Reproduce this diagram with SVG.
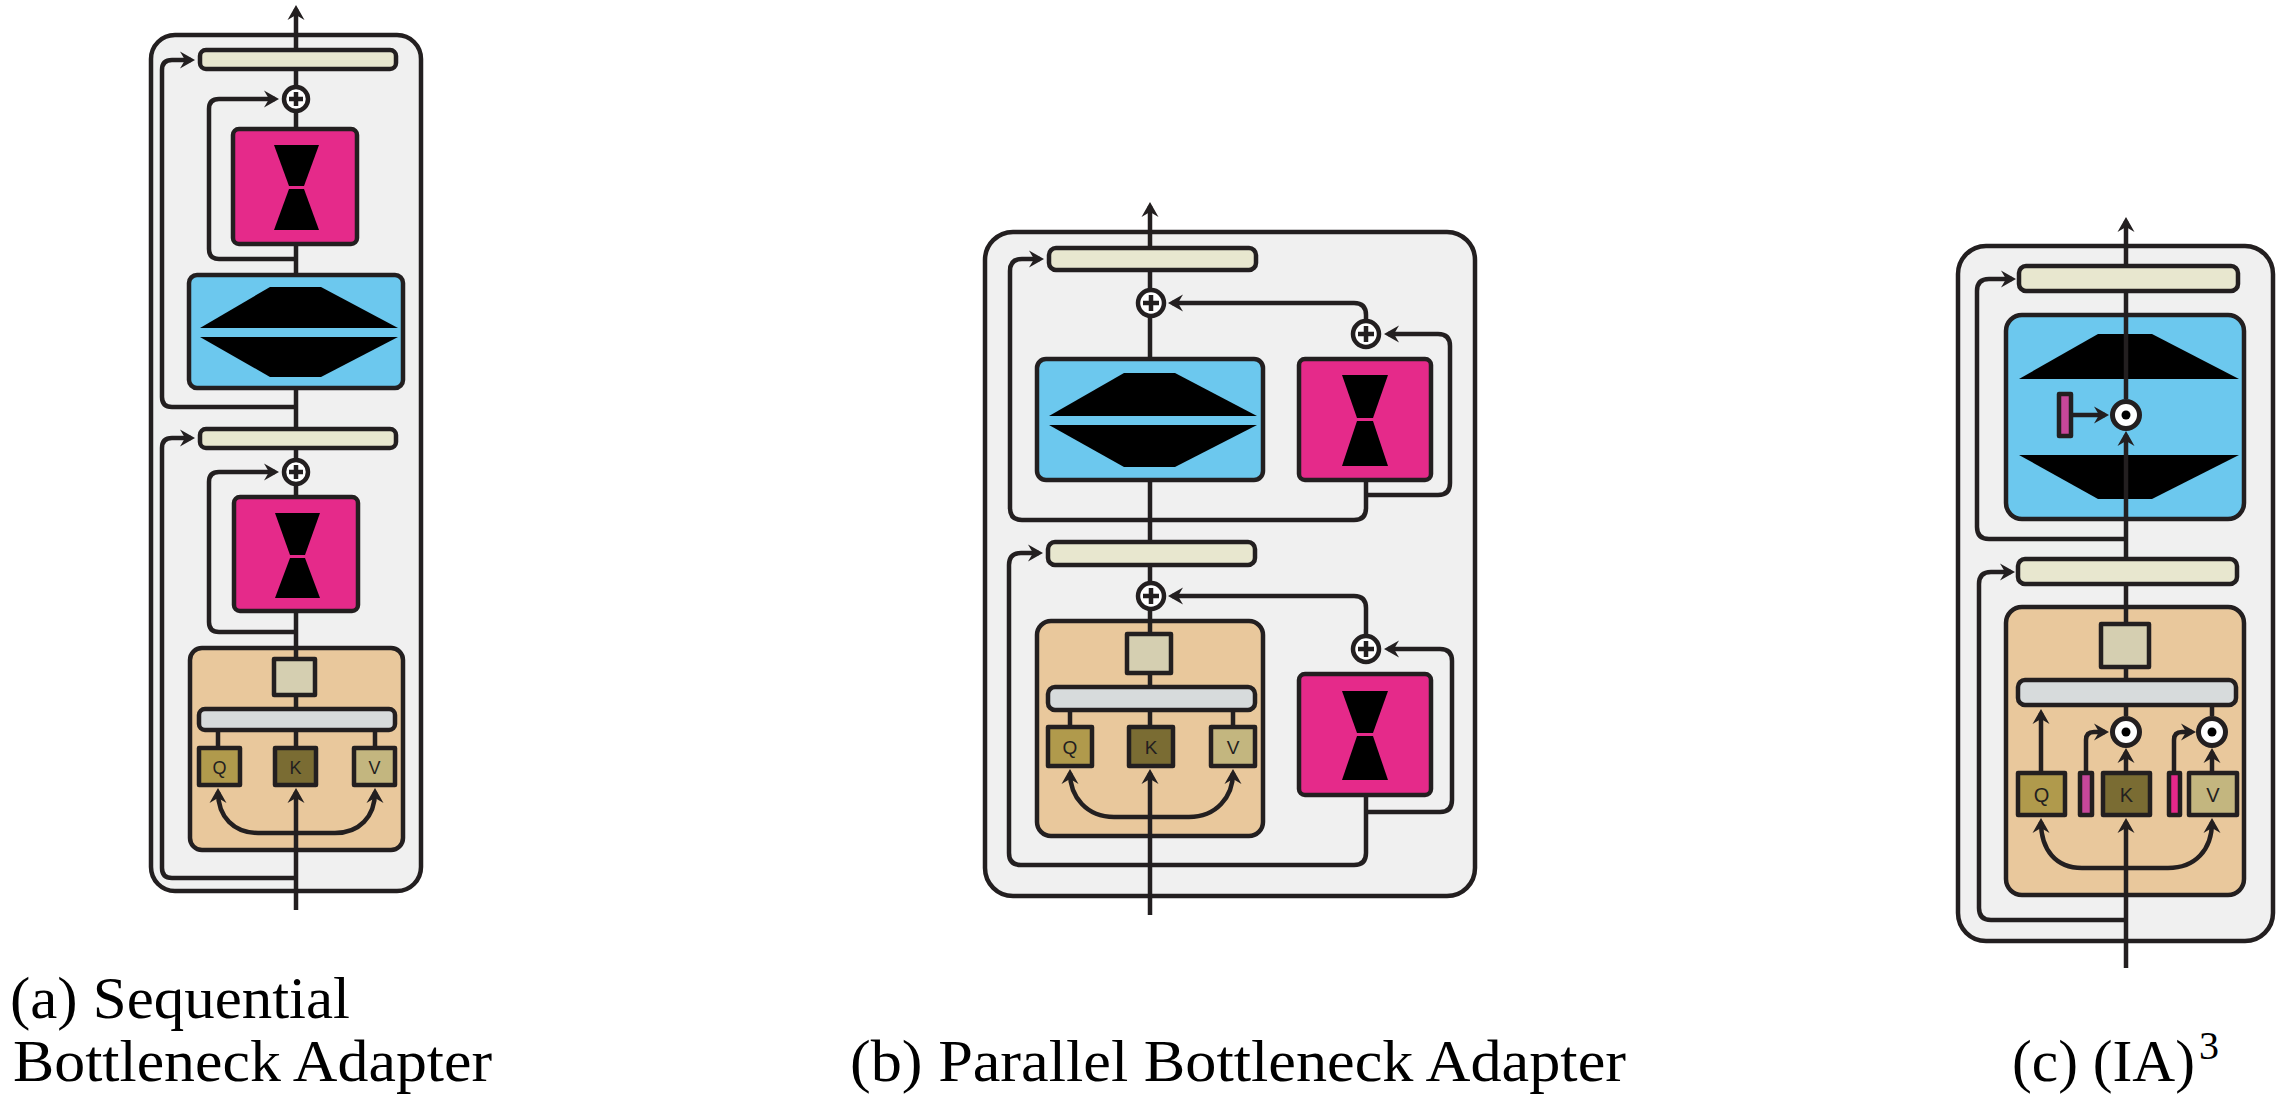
<svg xmlns="http://www.w3.org/2000/svg" width="2291" height="1106" viewBox="0 0 2291 1106">
<style>
.bx{stroke:#231f20;stroke-width:4.5;stroke-linejoin:round}
.outer{fill:#f0f0f0}
.ln{fill:#e8e7cf}
.pink{fill:#e52a8a}
.blue{fill:#6cc8ee}
.orange{fill:#e9c89c}
.sq{fill:#d5cfb1}
.gray{fill:#d7dbdc}
.q{fill:#b09a4c}
.k{fill:#7a6c33}
.v{fill:#c3b67f}
.blk{fill:#000}
.ln-c{fill:none;stroke:#231f20;stroke-width:4.5;stroke-linejoin:round}
.arr{marker-end:url(#ah)}
.pl{fill:#fff;stroke:#231f20;stroke-width:4.5}
.cross{stroke:#231f20;stroke-width:4.5;fill:none}
.od{fill:#fff;stroke:#231f20;stroke-width:5}
.lbl{font-family:"Liberation Sans",Arial,sans-serif;fill:#231f20;text-anchor:middle}
.cap{font-family:"Liberation Serif","DejaVu Serif",serif;font-size:60px;fill:#000}
</style>
<defs>
<marker id="ah" markerUnits="userSpaceOnUse" markerWidth="30" markerHeight="30" refX="0" refY="0" orient="auto" overflow="visible">
<path d="M-11,-8.5 L4,0 L-11,8.5 L-6,0 Z" fill="#231f20"/>
</marker>
</defs>

<!-- panel backgrounds -->
<g id="panel-a"><rect class="bx outer" x="151" y="35" width="270" height="856" rx="24"/></g>
<g id="panel-b"><rect class="bx outer" x="985" y="232" width="490" height="664" rx="28"/></g>
<g id="panel-c"><rect class="bx outer" x="1958" y="246" width="315" height="695" rx="28"/></g>

<!-- attention containers -->
<g id="attn-a"><rect class="bx orange" x="190" y="648" width="213" height="202" rx="12"/></g>
<g id="attn-b"><rect class="bx orange" x="1037" y="621" width="226" height="215" rx="14"/></g>
<g id="attn-c"><rect class="bx orange" x="2006" y="607" width="238" height="288" rx="16"/></g>

<!-- (c) feed-forward with IA3 scaling -->
<g id="ffn-c">
<rect class="bx blue" x="2006" y="315" width="238" height="204" rx="16"/>
<polygon class="blk" points="2098,334 2152,334 2239,379 2019,379"/>
<polygon class="blk" points="2019,455 2239,455 2152,499 2098,499"/>
</g>

<!-- connectors -->
<g id="connectors">
<!-- (a) -->
<path class="ln-c arr" d="M296,910 V792"/>
<path class="ln-c" d="M296,748 V388"/>
<path class="ln-c arr" d="M296,275 V9"/>
<path class="ln-c arr" d="M296,833 H258 C234,833 218,817 218,792"/>
<path class="ln-c arr" d="M296,833 H335 C359,833 375,817 375,792"/>
<path class="ln-c" d="M218,730 V748 M375,730 V748"/>
<path class="ln-c arr" d="M296,632 H219 Q209,632 209,622 V482 Q209,472 219,472 H275"/>
<path class="ln-c arr" d="M296,259 H219 Q209,259 209,249 V109 Q209,99 219,99 H275"/>
<path class="ln-c arr" d="M296,407 H172 Q162,407 162,397 V70 Q162,60 172,60 H191"/>
<path class="ln-c arr" d="M296,878 H172 Q162,878 162,868 V448 Q162,438 172,438 H191"/>
<!-- (b) -->
<path class="ln-c arr" d="M1150,915 V773"/>
<path class="ln-c" d="M1150,727 V480"/>
<path class="ln-c arr" d="M1150,359 V206"/>
<path class="ln-c arr" d="M1150,817 H1114 C1087,817 1070,797 1070,773"/>
<path class="ln-c arr" d="M1150,817 H1189 C1216,817 1233,797 1233,773"/>
<path class="ln-c" d="M1070,710 V727 M1233,710 V727"/>
<path class="ln-c arr" d="M1366,480 V508 Q1366,520 1354,520 H1022 Q1010,520 1010,508 V271 Q1010,259 1022,259 H1040"/>
<path class="ln-c arr" d="M1366,495 H1438 Q1450,495 1450,483 V346 Q1450,334 1438,334 H1388"/>
<path class="ln-c arr" d="M1366,321 V315 Q1366,303 1354,303 H1172"/>
<path class="ln-c arr" d="M1366,795 V853 Q1366,865 1354,865 H1021 Q1009,865 1009,853 V565 Q1009,553 1021,553 H1039"/>
<path class="ln-c arr" d="M1366,812 H1440 Q1452,812 1452,800 V661 Q1452,649 1440,649 H1388"/>
<path class="ln-c arr" d="M1366,636 V608 Q1366,596 1354,596 H1172"/>
<!-- (c) -->
<path class="ln-c arr" d="M2126,968 V822"/>
<path class="ln-c arr" d="M2126,773 V752"/>
<path class="ln-c arr" d="M2126,716 V435"/>
<path class="ln-c arr" d="M2126,399 V221"/>
<path class="ln-c" d="M2212,716 V703"/>
<path class="ln-c arr" d="M2212,773 V752"/>
<path class="ln-c arr" d="M2041,773 V713"/>
<path class="ln-c arr" d="M2126,868 H2082 C2056,868 2041,850 2041,822"/>
<path class="ln-c arr" d="M2126,868 H2168 C2195,868 2212,850 2212,822"/>
<path class="ln-c arr" d="M2086,773 V740 Q2086,732 2094,732 H2105"/>
<path class="ln-c arr" d="M2174,773 V740 Q2174,732 2182,732 H2192"/>
<path class="ln-c arr" d="M2073,415 H2105"/>
<path class="ln-c arr" d="M2126,539 H1989 Q1977,539 1977,527 V291 Q1977,279 1989,279 H2012"/>
<path class="ln-c arr" d="M2126,920 H1991 Q1979,920 1979,908 V584 Q1979,572 1991,572 H2011"/>
</g>

<!-- (a) nodes -->
<g id="a-ln1"><rect class="bx ln" x="200" y="50" width="196" height="19" rx="6"/></g>
<g id="a-add1"><circle class="pl" cx="296" cy="99" r="12"/><path class="cross" d="M289,99 H303 M296,92 V106"/></g>
<g id="a-adapter1"><rect class="bx pink" x="233" y="129" width="124" height="115" rx="6"/>
<polygon class="blk" points="274,145 319,145 304,186 289,186"/><polygon class="blk" points="289,189 304,189 319,230 274,230"/></g>
<g id="a-ffn"><rect class="bx blue" x="189" y="275" width="214" height="113" rx="8"/>
<polygon class="blk" points="270,287 321,287 398,328 200,328"/><polygon class="blk" points="200,337 398,337 321,377 270,377"/></g>
<g id="a-ln2"><rect class="bx ln" x="200" y="429" width="196" height="19" rx="6"/></g>
<g id="a-add2"><circle class="pl" cx="296" cy="472" r="12"/><path class="cross" d="M289,472 H303 M296,465 V479"/></g>
<g id="a-adapter2"><rect class="bx pink" x="234" y="497" width="124" height="114" rx="6"/>
<polygon class="blk" points="275,513 320,513 305,555 290,555"/><polygon class="blk" points="290,558 305,558 320,598 275,598"/></g>
<g id="a-proj"><rect class="bx sq" x="274" y="659" width="41" height="36"/></g>
<g id="a-attn"><rect class="bx gray" x="199" y="709" width="196" height="21" rx="6"/></g>
<g id="a-q"><rect class="bx q" x="199" y="748" width="41" height="37"/><text class="lbl" x="219.5" y="773.5" font-size="18">Q</text></g>
<g id="a-k"><rect class="bx k" x="275" y="748" width="41" height="37"/><text class="lbl" x="295.5" y="773.5" font-size="18">K</text></g>
<g id="a-v"><rect class="bx v" x="354" y="748" width="41" height="37"/><text class="lbl" x="374.5" y="773.5" font-size="18">V</text></g>

<!-- (b) nodes -->
<g id="b-ln1"><rect class="bx ln" x="1049" y="248" width="207" height="22" rx="7"/></g>
<g id="b-add1"><circle class="pl" cx="1151" cy="303" r="13"/><path class="cross" d="M1143,303 H1159 M1151,295 V311"/></g>
<g id="b-ffn"><rect class="bx blue" x="1037" y="359" width="226" height="121" rx="9"/>
<polygon class="blk" points="1124,373 1175,373 1257,416 1049,416"/><polygon class="blk" points="1049,425 1257,425 1175,467 1124,467"/></g>
<g id="b-add2"><circle class="pl" cx="1366" cy="334" r="13"/><path class="cross" d="M1358,334 H1374 M1366,326 V342"/></g>
<g id="b-adapter1"><rect class="bx pink" x="1299" y="359" width="132" height="121" rx="6"/>
<polygon class="blk" points="1342,375 1388,375 1373,418 1357,418"/><polygon class="blk" points="1357,421 1373,421 1388,466 1342,466"/></g>
<g id="b-ln2"><rect class="bx ln" x="1048" y="542" width="207" height="23" rx="7"/></g>
<g id="b-add3"><circle class="pl" cx="1151" cy="596" r="13"/><path class="cross" d="M1143,596 H1159 M1151,588 V604"/></g>
<g id="b-add4"><circle class="pl" cx="1366" cy="649" r="13"/><path class="cross" d="M1358,649 H1374 M1366,641 V657"/></g>
<g id="b-adapter2"><rect class="bx pink" x="1299" y="674" width="132" height="121" rx="6"/>
<polygon class="blk" points="1342,691 1388,691 1373,733 1357,733"/><polygon class="blk" points="1357,736 1373,736 1388,780 1342,780"/></g>
<g id="b-proj"><rect class="bx sq" x="1127" y="634" width="44" height="39"/></g>
<g id="b-attn"><rect class="bx gray" x="1048" y="687" width="207" height="23" rx="7"/></g>
<g id="b-q"><rect class="bx q" x="1048" y="727" width="44" height="39"/><text class="lbl" x="1070" y="754" font-size="19">Q</text></g>
<g id="b-k"><rect class="bx k" x="1129" y="727" width="44" height="39"/><text class="lbl" x="1151" y="754" font-size="19">K</text></g>
<g id="b-v"><rect class="bx v" x="1211" y="727" width="44" height="39"/><text class="lbl" x="1233" y="754" font-size="19">V</text></g>

<!-- (c) nodes -->
<g id="c-ln1"><rect class="bx ln" x="2019" y="266" width="219" height="25" rx="7"/></g>
<g id="c-scale-ff"><rect class="bx" fill="#c7479a" x="2059" y="394" width="12" height="42"/></g>
<g id="c-mul-ff"><circle class="od" cx="2126" cy="415" r="13.5"/><circle cx="2126" cy="415" r="4.5" fill="#000"/></g>
<g id="c-ln2"><rect class="bx ln" x="2018" y="559" width="219" height="25" rx="7"/></g>
<g id="c-proj"><rect class="bx sq" x="2101" y="624" width="48" height="43"/></g>
<g id="c-attn"><rect class="bx gray" x="2018" y="680" width="218" height="25" rx="7"/></g>
<g id="c-mul-k"><circle class="od" cx="2126" cy="732" r="13.5"/><circle cx="2126" cy="732" r="4.5" fill="#000"/></g>
<g id="c-mul-v"><circle class="od" cx="2212" cy="732" r="13.5"/><circle cx="2212" cy="732" r="4.5" fill="#000"/></g>
<g id="c-q"><rect class="bx q" x="2018" y="773" width="47" height="42"/><text class="lbl" x="2041.5" y="801.5" font-size="20">Q</text></g>
<g id="c-scale-k"><rect class="bx" fill="#c7479a" x="2080" y="773" width="12" height="42"/></g>
<g id="c-k"><rect class="bx k" x="2103" y="773" width="47" height="42"/><text class="lbl" x="2126.5" y="801.5" font-size="20">K</text></g>
<g id="c-scale-v"><rect class="bx" fill="#e6288a" x="2169" y="773" width="11" height="42"/></g>
<g id="c-v"><rect class="bx v" x="2189" y="773" width="48" height="42"/><text class="lbl" x="2213" y="801.5" font-size="20">V</text></g>

<!-- captions -->
<g id="captions">
<text class="cap" x="10" y="1018" textLength="340" lengthAdjust="spacingAndGlyphs">(a) Sequential</text>
<text class="cap" x="13" y="1081" textLength="479" lengthAdjust="spacingAndGlyphs">Bottleneck Adapter</text>
<text class="cap" x="850" y="1081" textLength="776" lengthAdjust="spacingAndGlyphs">(b) Parallel Bottleneck Adapter</text>
<text class="cap" x="2012" y="1081" textLength="183" lengthAdjust="spacingAndGlyphs">(c) (IA)</text>
<text class="cap" x="2199" y="1059" style="font-size:40px">3</text>
</g>
</svg>
